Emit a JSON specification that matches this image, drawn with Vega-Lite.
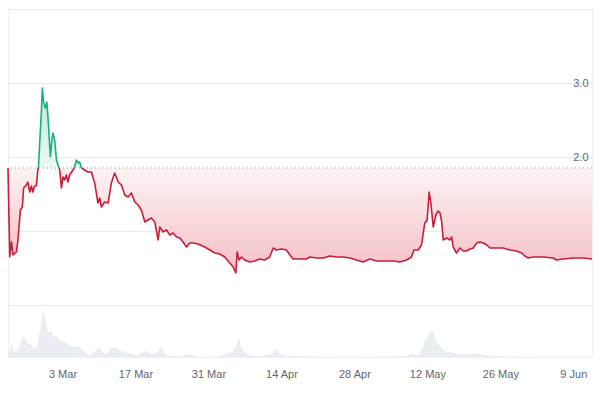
{
  "$schema": "https://vega.github.io/schema/vega-lite/v6.json",
  "width": 584,
  "height": 348,
  "autosize": {"type": "none"},
  "padding": {"left": 8, "top": 9, "right": 8, "bottom": 42},
  "background": "white",
  "config": {"view": {"stroke": "#eef0f2"}},
  "datasets": {
    "price": [
      {"t":"2024-02-21T13:00","p":1.855,"s":"d1","dir":"down"},
      {"t":"2024-02-21T21:00","p":0.654,"s":"d1","dir":"down"},
      {"t":"2024-02-22T05:00","p":0.857,"s":"d1","dir":"down"},
      {"t":"2024-02-22T12:00","p":0.681,"s":"d1","dir":"down"},
      {"t":"2024-02-23T04:00","p":0.722,"s":"d1","dir":"down"},
      {"t":"2024-02-23T10:00","p":0.857,"s":"d1","dir":"down"},
      {"t":"2024-02-23T22:00","p":1.288,"s":"d1","dir":"down"},
      {"t":"2024-02-24T07:00","p":1.329,"s":"d1","dir":"down"},
      {"t":"2024-02-24T13:00","p":1.585,"s":"d1","dir":"down"},
      {"t":"2024-02-25T02:00","p":1.626,"s":"d1","dir":"down"},
      {"t":"2024-02-25T08:00","p":1.666,"s":"d1","dir":"down"},
      {"t":"2024-02-25T17:00","p":1.531,"s":"d1","dir":"down"},
      {"t":"2024-02-26T01:00","p":1.612,"s":"d1","dir":"down"},
      {"t":"2024-02-26T07:00","p":1.531,"s":"d1","dir":"down"},
      {"t":"2024-02-26T16:00","p":1.612,"s":"d1","dir":"down"},
      {"t":"2024-02-27T00:00","p":1.620,"s":"d1","dir":"down"},
      {"t":"2024-02-27T06:00","p":1.828,"s":"d1","dir":"down"},
      {"t":"2024-02-27T09:00","p":1.855,"s":"d1","dir":"down"},
      {"t":"2024-02-27T09:00","p":1.855,"s":"u1","dir":"up"},
      {"t":"2024-02-27T15:00","p":2.192,"s":"u1","dir":"up"},
      {"t":"2024-02-27T23:00","p":2.638,"s":"u1","dir":"up"},
      {"t":"2024-02-28T03:00","p":2.934,"s":"u1","dir":"up"},
      {"t":"2024-02-28T09:00","p":2.746,"s":"u1","dir":"up"},
      {"t":"2024-02-28T17:00","p":2.665,"s":"u1","dir":"up"},
      {"t":"2024-02-29T00:00","p":2.746,"s":"u1","dir":"up"},
      {"t":"2024-02-29T08:00","p":2.408,"s":"u1","dir":"up"},
      {"t":"2024-02-29T16:00","p":2.004,"s":"u1","dir":"up"},
      {"t":"2024-02-29T23:00","p":2.233,"s":"u1","dir":"up"},
      {"t":"2024-03-01T04:00","p":2.327,"s":"u1","dir":"up"},
      {"t":"2024-03-01T12:00","p":2.233,"s":"u1","dir":"up"},
      {"t":"2024-03-01T20:00","p":1.963,"s":"u1","dir":"up"},
      {"t":"2024-03-02T03:00","p":1.896,"s":"u1","dir":"up"},
      {"t":"2024-03-02T08:00","p":1.855,"s":"u1","dir":"up"},
      {"t":"2024-03-02T08:00","p":1.855,"s":"d2","dir":"down"},
      {"t":"2024-03-02T11:00","p":1.828,"s":"d2","dir":"down"},
      {"t":"2024-03-02T19:00","p":1.585,"s":"d2","dir":"down"},
      {"t":"2024-03-03T02:00","p":1.734,"s":"d2","dir":"down"},
      {"t":"2024-03-03T10:00","p":1.693,"s":"d2","dir":"down"},
      {"t":"2024-03-03T18:00","p":1.761,"s":"d2","dir":"down"},
      {"t":"2024-03-04T01:00","p":1.666,"s":"d2","dir":"down"},
      {"t":"2024-03-04T09:00","p":1.761,"s":"d2","dir":"down"},
      {"t":"2024-03-05T00:00","p":1.828,"s":"d2","dir":"down"},
      {"t":"2024-03-05T06:00","p":1.855,"s":"d2","dir":"down"},
      {"t":"2024-03-05T06:00","p":1.855,"s":"u2","dir":"up"},
      {"t":"2024-03-05T16:00","p":1.963,"s":"u2","dir":"up"},
      {"t":"2024-03-06T00:00","p":1.923,"s":"u2","dir":"up"},
      {"t":"2024-03-06T07:00","p":1.936,"s":"u2","dir":"up"},
      {"t":"2024-03-06T15:00","p":1.855,"s":"u2","dir":"up"},
      {"t":"2024-03-06T15:00","p":1.855,"s":"d3","dir":"down"},
      {"t":"2024-03-07T06:00","p":1.828,"s":"d3","dir":"down"},
      {"t":"2024-03-07T21:00","p":1.801,"s":"d3","dir":"down"},
      {"t":"2024-03-08T13:00","p":1.801,"s":"d3","dir":"down"},
      {"t":"2024-03-09T04:00","p":1.653,"s":"d3","dir":"down"},
      {"t":"2024-03-09T19:00","p":1.383,"s":"d3","dir":"down"},
      {"t":"2024-03-10T03:00","p":1.450,"s":"d3","dir":"down"},
      {"t":"2024-03-10T11:00","p":1.329,"s":"d3","dir":"down"},
      {"t":"2024-03-11T02:00","p":1.396,"s":"d3","dir":"down"},
      {"t":"2024-03-11T18:00","p":1.383,"s":"d3","dir":"down"},
      {"t":"2024-03-12T09:00","p":1.653,"s":"d3","dir":"down"},
      {"t":"2024-03-13T00:00","p":1.788,"s":"d3","dir":"down"},
      {"t":"2024-03-13T08:00","p":1.734,"s":"d3","dir":"down"},
      {"t":"2024-03-13T16:00","p":1.666,"s":"d3","dir":"down"},
      {"t":"2024-03-14T07:00","p":1.626,"s":"d3","dir":"down"},
      {"t":"2024-03-14T23:00","p":1.491,"s":"d3","dir":"down"},
      {"t":"2024-03-15T14:00","p":1.464,"s":"d3","dir":"down"},
      {"t":"2024-03-16T05:00","p":1.518,"s":"d3","dir":"down"},
      {"t":"2024-03-16T21:00","p":1.396,"s":"d3","dir":"down"},
      {"t":"2024-03-17T12:00","p":1.356,"s":"d3","dir":"down"},
      {"t":"2024-03-18T03:00","p":1.288,"s":"d3","dir":"down"},
      {"t":"2024-03-18T19:00","p":1.127,"s":"d3","dir":"down"},
      {"t":"2024-03-19T10:00","p":1.154,"s":"d3","dir":"down"},
      {"t":"2024-03-20T01:00","p":1.181,"s":"d3","dir":"down"},
      {"t":"2024-03-20T17:00","p":1.127,"s":"d3","dir":"down"},
      {"t":"2024-03-21T08:00","p":0.884,"s":"d3","dir":"down"},
      {"t":"2024-03-21T16:00","p":1.059,"s":"d3","dir":"down"},
      {"t":"2024-03-22T07:00","p":0.992,"s":"d3","dir":"down"},
      {"t":"2024-03-22T23:00","p":1.019,"s":"d3","dir":"down"},
      {"t":"2024-03-23T14:00","p":0.951,"s":"d3","dir":"down"},
      {"t":"2024-03-24T05:00","p":0.978,"s":"d3","dir":"down"},
      {"t":"2024-03-24T21:00","p":0.924,"s":"d3","dir":"down"},
      {"t":"2024-03-25T12:00","p":0.911,"s":"d3","dir":"down"},
      {"t":"2024-03-26T03:00","p":0.857,"s":"d3","dir":"down"},
      {"t":"2024-03-26T19:00","p":0.789,"s":"d3","dir":"down"},
      {"t":"2024-03-27T10:00","p":0.843,"s":"d3","dir":"down"},
      {"t":"2024-03-28T01:00","p":0.843,"s":"d3","dir":"down"},
      {"t":"2024-03-29T00:00","p":0.830,"s":"d3","dir":"down"},
      {"t":"2024-03-30T07:00","p":0.789,"s":"d3","dir":"down"},
      {"t":"2024-03-31T06:00","p":0.749,"s":"d3","dir":"down"},
      {"t":"2024-04-01T05:00","p":0.708,"s":"d3","dir":"down"},
      {"t":"2024-04-02T04:00","p":0.695,"s":"d3","dir":"down"},
      {"t":"2024-04-03T03:00","p":0.654,"s":"d3","dir":"down"},
      {"t":"2024-04-04T02:00","p":0.573,"s":"d3","dir":"down"},
      {"t":"2024-04-04T18:00","p":0.519,"s":"d3","dir":"down"},
      {"t":"2024-04-05T06:00","p":0.438,"s":"d3","dir":"down"},
      {"t":"2024-04-05T12:00","p":0.722,"s":"d3","dir":"down"},
      {"t":"2024-04-05T21:00","p":0.614,"s":"d3","dir":"down"},
      {"t":"2024-04-06T08:00","p":0.654,"s":"d3","dir":"down"},
      {"t":"2024-04-06T23:00","p":0.614,"s":"d3","dir":"down"},
      {"t":"2024-04-07T22:00","p":0.587,"s":"d3","dir":"down"},
      {"t":"2024-04-08T21:00","p":0.600,"s":"d3","dir":"down"},
      {"t":"2024-04-09T20:00","p":0.627,"s":"d3","dir":"down"},
      {"t":"2024-04-10T19:00","p":0.614,"s":"d3","dir":"down"},
      {"t":"2024-04-11T18:00","p":0.654,"s":"d3","dir":"down"},
      {"t":"2024-04-12T10:00","p":0.776,"s":"d3","dir":"down"},
      {"t":"2024-04-13T01:00","p":0.749,"s":"d3","dir":"down"},
      {"t":"2024-04-14T00:00","p":0.762,"s":"d3","dir":"down"},
      {"t":"2024-04-14T23:00","p":0.749,"s":"d3","dir":"down"},
      {"t":"2024-04-15T15:00","p":0.681,"s":"d3","dir":"down"},
      {"t":"2024-04-16T06:00","p":0.627,"s":"d3","dir":"down"},
      {"t":"2024-04-17T13:00","p":0.627,"s":"d3","dir":"down"},
      {"t":"2024-04-18T19:00","p":0.627,"s":"d3","dir":"down"},
      {"t":"2024-04-19T11:00","p":0.654,"s":"d3","dir":"down"},
      {"t":"2024-04-20T18:00","p":0.641,"s":"d3","dir":"down"},
      {"t":"2024-04-22T00:00","p":0.641,"s":"d3","dir":"down"},
      {"t":"2024-04-23T07:00","p":0.668,"s":"d3","dir":"down"},
      {"t":"2024-04-24T14:00","p":0.654,"s":"d3","dir":"down"},
      {"t":"2024-04-25T20:00","p":0.654,"s":"d3","dir":"down"},
      {"t":"2024-04-27T03:00","p":0.641,"s":"d3","dir":"down"},
      {"t":"2024-04-28T10:00","p":0.614,"s":"d3","dir":"down"},
      {"t":"2024-04-29T16:00","p":0.587,"s":"d3","dir":"down"},
      {"t":"2024-04-30T23:00","p":0.627,"s":"d3","dir":"down"},
      {"t":"2024-05-02T06:00","p":0.600,"s":"d3","dir":"down"},
      {"t":"2024-05-04T04:00","p":0.600,"s":"d3","dir":"down"},
      {"t":"2024-05-05T11:00","p":0.600,"s":"d3","dir":"down"},
      {"t":"2024-05-06T17:00","p":0.587,"s":"d3","dir":"down"},
      {"t":"2024-05-08T00:00","p":0.614,"s":"d3","dir":"down"},
      {"t":"2024-05-08T23:00","p":0.654,"s":"d3","dir":"down"},
      {"t":"2024-05-09T10:00","p":0.749,"s":"d3","dir":"down"},
      {"t":"2024-05-10T06:00","p":0.749,"s":"d3","dir":"down"},
      {"t":"2024-05-10T21:00","p":0.816,"s":"d3","dir":"down"},
      {"t":"2024-05-11T12:00","p":1.113,"s":"d3","dir":"down"},
      {"t":"2024-05-11T23:00","p":1.154,"s":"d3","dir":"down"},
      {"t":"2024-05-12T08:00","p":1.531,"s":"d3","dir":"down"},
      {"t":"2024-05-12T16:00","p":1.383,"s":"d3","dir":"down"},
      {"t":"2024-05-13T03:00","p":1.059,"s":"d3","dir":"down"},
      {"t":"2024-05-13T15:00","p":1.221,"s":"d3","dir":"down"},
      {"t":"2024-05-14T02:00","p":1.275,"s":"d3","dir":"down"},
      {"t":"2024-05-14T10:00","p":1.248,"s":"d3","dir":"down"},
      {"t":"2024-05-14T18:00","p":1.127,"s":"d3","dir":"down"},
      {"t":"2024-05-15T01:00","p":0.884,"s":"d3","dir":"down"},
      {"t":"2024-05-15T17:00","p":0.911,"s":"d3","dir":"down"},
      {"t":"2024-05-16T08:00","p":0.884,"s":"d3","dir":"down"},
      {"t":"2024-05-16T16:00","p":0.924,"s":"d3","dir":"down"},
      {"t":"2024-05-16T23:00","p":0.789,"s":"d3","dir":"down"},
      {"t":"2024-05-17T14:00","p":0.708,"s":"d3","dir":"down"},
      {"t":"2024-05-18T06:00","p":0.776,"s":"d3","dir":"down"},
      {"t":"2024-05-18T21:00","p":0.735,"s":"d3","dir":"down"},
      {"t":"2024-05-19T12:00","p":0.735,"s":"d3","dir":"down"},
      {"t":"2024-05-20T04:00","p":0.762,"s":"d3","dir":"down"},
      {"t":"2024-05-20T19:00","p":0.776,"s":"d3","dir":"down"},
      {"t":"2024-05-21T11:00","p":0.843,"s":"d3","dir":"down"},
      {"t":"2024-05-22T02:00","p":0.857,"s":"d3","dir":"down"},
      {"t":"2024-05-22T17:00","p":0.843,"s":"d3","dir":"down"},
      {"t":"2024-05-23T09:00","p":0.816,"s":"d3","dir":"down"},
      {"t":"2024-05-24T00:00","p":0.776,"s":"d3","dir":"down"},
      {"t":"2024-05-25T07:00","p":0.776,"s":"d3","dir":"down"},
      {"t":"2024-05-26T13:00","p":0.776,"s":"d3","dir":"down"},
      {"t":"2024-05-27T20:00","p":0.749,"s":"d3","dir":"down"},
      {"t":"2024-05-29T03:00","p":0.735,"s":"d3","dir":"down"},
      {"t":"2024-05-30T02:00","p":0.708,"s":"d3","dir":"down"},
      {"t":"2024-05-30T17:00","p":0.668,"s":"d3","dir":"down"},
      {"t":"2024-05-31T08:00","p":0.641,"s":"d3","dir":"down"},
      {"t":"2024-06-01T07:00","p":0.654,"s":"d3","dir":"down"},
      {"t":"2024-06-03T06:00","p":0.654,"s":"d3","dir":"down"},
      {"t":"2024-06-05T04:00","p":0.641,"s":"d3","dir":"down"},
      {"t":"2024-06-05T19:00","p":0.614,"s":"d3","dir":"down"},
      {"t":"2024-06-07T02:00","p":0.627,"s":"d3","dir":"down"},
      {"t":"2024-06-09T00:00","p":0.641,"s":"d3","dir":"down"},
      {"t":"2024-06-10T22:00","p":0.641,"s":"d3","dir":"down"},
      {"t":"2024-06-12T14:00","p":0.627,"s":"d3","dir":"down"}
    ],
    "volume": [
      {"t":"2024-02-21T13:00","vol":0},
      {"t":"2024-02-22T05:00","vol":26.7},
      {"t":"2024-02-22T15:00","vol":10},
      {"t":"2024-02-23T11:00","vol":13},
      {"t":"2024-02-23T22:00","vol":30},
      {"t":"2024-02-24T13:00","vol":42},
      {"t":"2024-02-25T02:00","vol":30},
      {"t":"2024-02-26T01:00","vol":23},
      {"t":"2024-02-27T00:00","vol":17},
      {"t":"2024-02-27T12:00","vol":43},
      {"t":"2024-02-27T23:00","vol":70},
      {"t":"2024-02-28T09:00","vol":97},
      {"t":"2024-02-28T19:00","vol":63},
      {"t":"2024-02-29T05:00","vol":50},
      {"t":"2024-02-29T21:00","vol":53},
      {"t":"2024-03-01T07:00","vol":40},
      {"t":"2024-03-01T20:00","vol":43},
      {"t":"2024-03-02T11:00","vol":33},
      {"t":"2024-03-03T10:00","vol":30},
      {"t":"2024-03-04T09:00","vol":23},
      {"t":"2024-03-05T08:00","vol":20},
      {"t":"2024-03-05T23:00","vol":23},
      {"t":"2024-03-06T22:00","vol":13},
      {"t":"2024-03-08T05:00","vol":3},
      {"t":"2024-03-09T04:00","vol":10},
      {"t":"2024-03-10T00:00","vol":20},
      {"t":"2024-03-10T16:00","vol":10},
      {"t":"2024-03-11T10:00","vol":5},
      {"t":"2024-03-12T09:00","vol":17},
      {"t":"2024-03-13T00:00","vol":20},
      {"t":"2024-03-13T23:00","vol":13},
      {"t":"2024-03-14T23:00","vol":10},
      {"t":"2024-03-15T22:00","vol":7},
      {"t":"2024-03-17T04:00","vol":3},
      {"t":"2024-03-18T03:00","vol":7},
      {"t":"2024-03-19T02:00","vol":13},
      {"t":"2024-03-20T01:00","vol":5},
      {"t":"2024-03-21T00:00","vol":7},
      {"t":"2024-03-21T20:00","vol":20},
      {"t":"2024-03-22T10:00","vol":10},
      {"t":"2024-03-23T06:00","vol":2},
      {"t":"2024-03-25T12:00","vol":1.3},
      {"t":"2024-03-27T10:00","vol":5},
      {"t":"2024-03-28T17:00","vol":1.3},
      {"t":"2024-03-30T15:00","vol":0.5},
      {"t":"2024-04-01T13:00","vol":0.5},
      {"t":"2024-04-03T11:00","vol":7},
      {"t":"2024-04-04T18:00","vol":11},
      {"t":"2024-04-05T12:00","vol":27},
      {"t":"2024-04-05T21:00","vol":38},
      {"t":"2024-04-06T08:00","vol":17},
      {"t":"2024-04-07T07:00","vol":7},
      {"t":"2024-04-08T13:00","vol":2},
      {"t":"2024-04-10T12:00","vol":1.3},
      {"t":"2024-04-12T02:00","vol":7},
      {"t":"2024-04-12T22:00","vol":15},
      {"t":"2024-04-13T17:00","vol":7},
      {"t":"2024-04-14T23:00","vol":2},
      {"t":"2024-04-17T13:00","vol":1.3},
      {"t":"2024-04-23T21:00","vol":0.5},
      {"t":"2024-04-30T08:00","vol":0.5},
      {"t":"2024-05-08T00:00","vol":1.3},
      {"t":"2024-05-09T06:00","vol":7},
      {"t":"2024-05-10T06:00","vol":3},
      {"t":"2024-05-11T02:00","vol":17},
      {"t":"2024-05-11T17:00","vol":37},
      {"t":"2024-05-12T12:00","vol":47},
      {"t":"2024-05-12T22:00","vol":53},
      {"t":"2024-05-13T11:00","vol":40},
      {"t":"2024-05-13T21:00","vol":27},
      {"t":"2024-05-14T10:00","vol":23},
      {"t":"2024-05-15T01:00","vol":13},
      {"t":"2024-05-16T00:00","vol":10},
      {"t":"2024-05-17T14:00","vol":7},
      {"t":"2024-05-19T12:00","vol":5},
      {"t":"2024-05-21T11:00","vol":7},
      {"t":"2024-05-23T09:00","vol":3},
      {"t":"2024-05-25T22:00","vol":1.3},
      {"t":"2024-06-01T06:00","vol":0.7},
      {"t":"2024-06-07T17:00","vol":0.5},
      {"t":"2024-06-12T14:00","vol":0.5}
    ]
  },
  "layer": [
    {
      "data": {"name": "volume"},
      "mark": {"type": "area", "color": "#eaedf1", "interpolate": "linear"},
      "encoding": {
        "x": {"field": "t", "type": "temporal", "scale": {"nice": false, "padding": 0},
          "axis": {"values": [{"year":2024,"month":3,"date":3},{"year":2024,"month":3,"date":17},{"year":2024,"month":3,"date":31},{"year":2024,"month":4,"date":14},{"year":2024,"month":4,"date":28},{"year":2024,"month":5,"date":12},{"year":2024,"month":5,"date":26},{"year":2024,"month":6,"date":9}], "format": "%-d %b", "domain": false, "ticks": false, "grid": false, "labelPadding": 11, "labelFont": "Liberation Sans", "labelFontSize": 11, "labelColor": "#62666d", "labelFlush": false, "title": null}},
        "y": {"field": "vol", "type": "quantitative", "scale": {"domain": [0, 696], "nice": false}, "axis": null}
      }
    },
    {
      "layer": [
        {
          "data": {"name": "price"},
          "transform": [{"filter": "datum.dir == 'down'"}],
          "mark": {"type": "area", "interpolate": "linear", "color": {"gradient": "linear", "x1": 0, "y1": 0, "x2": 0, "y2": 1, "stops": [{"offset": 0, "color": "#fdf3f4"}, {"offset": 1, "color": "#f5bfc5"}]}},
          "encoding": {
            "x": {"field": "t", "type": "temporal", "title": null},
            "y": {"field": "p", "type": "quantitative", "scale": {"domain": [-0.695, 4.0], "nice": false, "zero": false},
              "axis": {"orient": "right", "values": [0, 1, 2, 3, 4], "labelExpr": "datum.value > 0.5 && datum.value < 3.5 ? format(datum.value, '.1f') : ''", "grid": true, "gridColor": "#e8eaed", "domain": false, "ticks": false, "labelAlign": "right", "labelPadding": -4, "labelBaseline": "middle", "labelFont": "Liberation Sans", "labelFontSize": 11, "labelColor": "#62666d", "title": null}},
            "y2": {"datum": 1.855},
            "detail": {"field": "s"}
          }
        },
        {
          "data": {"name": "price"},
          "transform": [{"filter": "datum.dir == 'up'"}],
          "mark": {"type": "area", "interpolate": "linear", "color": {"gradient": "linear", "x1": 0, "y1": 0, "x2": 0, "y2": 1, "stops": [{"offset": 0, "color": "#b9ead6"}, {"offset": 1, "color": "#ecf9f3"}]}},
          "encoding": {
            "x": {"field": "t", "type": "temporal", "title": null},
            "y": {"field": "p", "type": "quantitative", "scale": {"domain": [-0.695, 4.0], "nice": false, "zero": false},
              "axis": {"orient": "right", "values": [0, 1, 2, 3, 4], "labelExpr": "datum.value > 0.5 && datum.value < 3.5 ? format(datum.value, '.1f') : ''", "grid": true, "gridColor": "#e8eaed", "domain": false, "ticks": false, "labelAlign": "right", "labelPadding": -4, "labelBaseline": "middle", "labelFont": "Liberation Sans", "labelFontSize": 11, "labelColor": "#62666d", "title": null}},
            "y2": {"datum": 1.855},
            "detail": {"field": "s"}
          }
        },
        {
          "data": {"values": [{}]},
          "mark": {"type": "rule", "stroke": "#8a8f98", "strokeWidth": 1, "strokeDash": [1, 3]},
          "encoding": {
            "y": {"datum": 1.855, "type": "quantitative", "scale": {"domain": [-0.695, 4.0], "nice": false, "zero": false},
              "axis": {"orient": "right", "values": [0, 1, 2, 3, 4], "labelExpr": "datum.value > 0.5 && datum.value < 3.5 ? format(datum.value, '.1f') : ''", "grid": true, "gridColor": "#e8eaed", "domain": false, "ticks": false, "labelAlign": "right", "labelPadding": -4, "labelBaseline": "middle", "labelFont": "Liberation Sans", "labelFontSize": 11, "labelColor": "#62666d", "title": null}}
          }
        },
        {
          "data": {"name": "price"},
          "mark": {"type": "line", "strokeWidth": 1.6, "strokeJoin": "round", "interpolate": "linear"},
          "encoding": {
            "x": {"field": "t", "type": "temporal", "title": null},
            "y": {"field": "p", "type": "quantitative", "scale": {"domain": [-0.695, 4.0], "nice": false, "zero": false},
              "axis": {"orient": "right", "values": [0, 1, 2, 3, 4], "labelExpr": "datum.value > 0.5 && datum.value < 3.5 ? format(datum.value, '.1f') : ''", "grid": true, "gridColor": "#e8eaed", "domain": false, "ticks": false, "labelAlign": "right", "labelPadding": -4, "labelBaseline": "middle", "labelFont": "Liberation Sans", "labelFontSize": 11, "labelColor": "#62666d", "title": null}},
            "color": {"field": "dir", "type": "nominal", "scale": {"domain": ["down", "up"], "range": ["#c81d3a", "#16b27a"]}, "legend": null},
            "detail": {"field": "s"}
          }
        }
      ]
    }
  ],
  "resolve": {"scale": {"y": "independent"}}
}
